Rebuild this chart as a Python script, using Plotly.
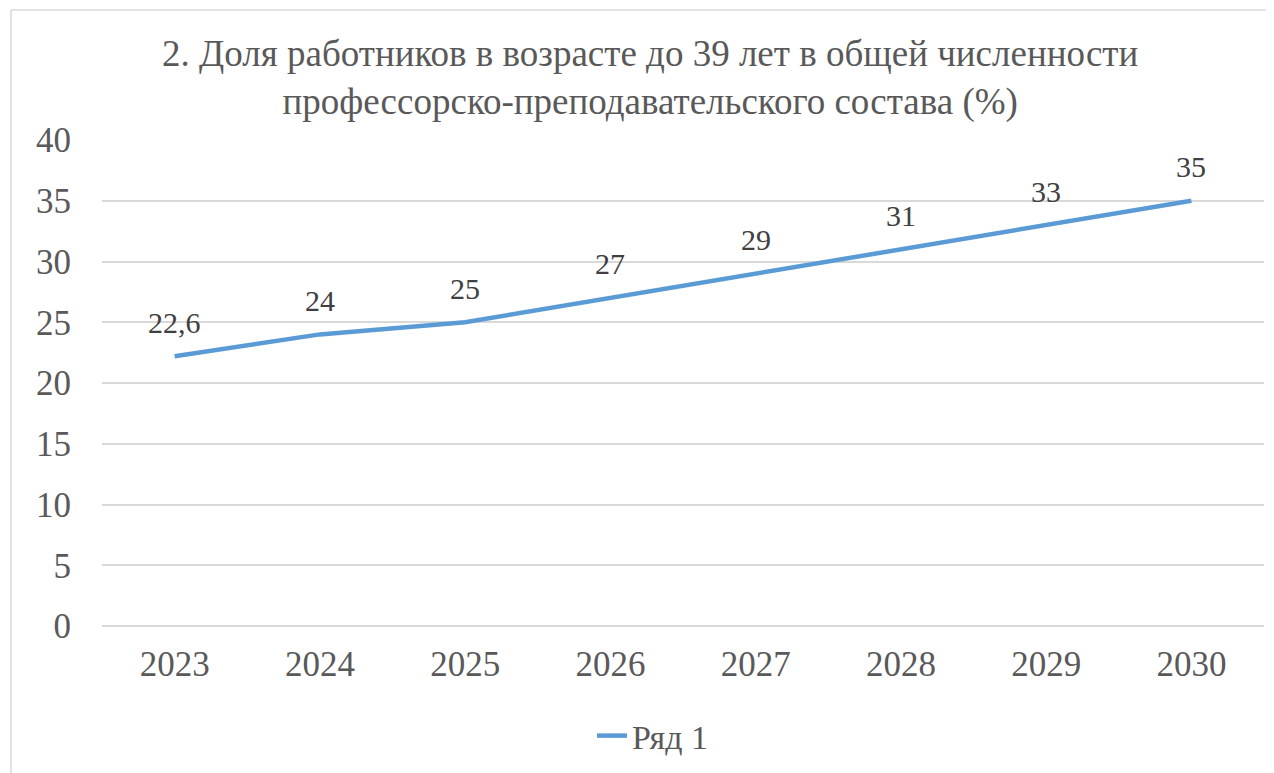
import plotly.graph_objects as go

years = ["2023", "2024", "2025", "2026", "2027", "2028", "2029", "2030"]
values = [22.2, 24, 25, 27, 29, 31, 33, 35]
labels = ["22,6", "24", "25", "27", "29", "31", "33", "35"]
series_name = "Ряд 1"
title_text = "2. Доля работников в возрасте до 39 лет в общей численности<br>профессорско-преподавательского состава (%)"

FONT = "'Liberation Serif', 'Times New Roman', serif"
TXT = "#595959"
GRID = "#d9d9d9"
LINE = "#5b9bd5"

OFF = 8  # page body margin
W, H = 1274 - OFF, 773 - OFF
L, R, T, B = 102 - OFF, 10, 140 - OFF, 147
pw, ph = W - L - R, H - T - B

def px_x(p):
    return (p - OFF - L) / pw

def px_y(p):
    return (H - B - (p - OFF)) / ph

fig = go.Figure()
fig.add_trace(go.Scatter(
    x=years, y=values, mode="lines", name=series_name,
    line=dict(color=LINE, width=4.5),
    hoverinfo="skip",
))

for i, (y, t) in enumerate(zip(values, labels)):
    fig.add_annotation(x=i, y=y, text=t, showarrow=False, yshift=34,
                       font=dict(family=FONT, size=30, color="#404040"))

fig.add_annotation(xref="paper", yref="paper", x=px_x(650), y=px_y(78),
                   xanchor="center", yanchor="middle", text=title_text,
                   showarrow=False, font=dict(family=FONT, size=37, color=TXT))

fig.add_shape(type="rect", xref="paper", yref="paper",
              x0=px_x(11), x1=px_x(1300), y0=px_y(800), y1=px_y(10),
              line=dict(color=GRID, width=1.5), fillcolor="rgba(0,0,0,0)", layer="below")

fig.update_layout(
    width=W, height=H,
    margin=dict(l=L, r=R, t=T, b=B, autoexpand=False),
    paper_bgcolor="white", plot_bgcolor="white",
    font=dict(family=FONT, color=TXT),
    showlegend=True,
    legend=dict(orientation="h", x=px_x(653), y=px_y(736), xanchor="center", yanchor="middle",
                font=dict(family=FONT, size=34, color=TXT), bgcolor="rgba(0,0,0,0)"),
    xaxis=dict(type="category", range=[-0.5, len(years) - 0.5], showgrid=False, showline=False,
               zeroline=False, ticks="",
               tickfont=dict(family=FONT, size=35, color=TXT), ticklabelstandoff=14,
               automargin=False, fixedrange=True),
    yaxis=dict(range=[0, 40], dtick=5, showgrid=True, gridcolor=GRID, gridwidth=1.5,
               zeroline=True, zerolinecolor=GRID, zerolinewidth=1.5, showline=False, ticks="",
               tickfont=dict(family=FONT, size=35, color=TXT), ticklabelstandoff=30,
               automargin=False, fixedrange=True),
)

fig.write_html("out.html")
